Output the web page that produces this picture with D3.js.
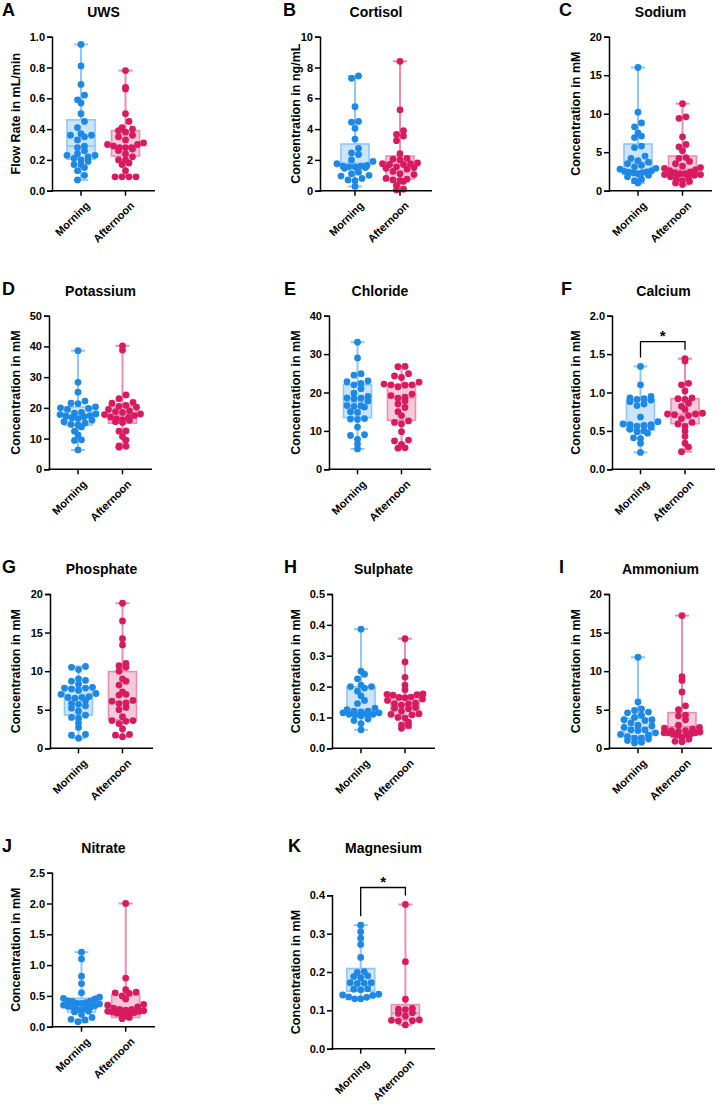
<!DOCTYPE html>
<html>
<head>
<meta charset="utf-8">
<script src="https://cdn.jsdelivr.net/npm/d3@7"></script>
<style>
  html, body { margin: 0; padding: 0; background: #fff; }
  svg { display: block; font-family: "Liberation Sans", Arial, Helvetica, sans-serif; font-weight: bold; }
</style>
</head>
<body>
<svg id="chart" width="716" height="1106"></svg>
<script>
// ---------------- DATA ----------------
const groups = ["Morning", "Afternoon"];
const panelLetters = ["A","B","C","D","E","F","G","H","I","J","K"];
const panelTitles = ["UWS","Cortisol","Sodium","Potassium","Chloride","Calcium","Phosphate","Sulphate","Ammonium","Nitrate","Magnesium"];
const yLabels = ["Flow Rate in mL/min","Concentration in ng/mL","Concentration in mM","Concentration in mM","Concentration in mM","Concentration in mM","Concentration in mM","Concentration in mM","Concentration in mM","Concentration in mM","Concentration in mM"];
const yMaxes = [1.0, 10, 20, 50, 40, 2.0, 20, 0.5, 20, 2.5, 0.4];
const yTickSteps = [0.2, 2, 5, 10, 10, 0.5, 5, 0.1, 5, 0.5, 0.1];
const yTickFormats = [".1f", "d", "d", "d", "d", ".1f", "d", ".1f", "d", ".1f", ".1f"];
const significance = ["", "", "", "", "", "*", "", "", "", "", "*"];

// individual points [Morning, Afternoon]
const uwsMorning = [0.95,0.81,0.69,0.62,0.59,0.57,0.50,0.45,0.41,0.37,0.36,0.36,0.35,0.33,0.29,0.28,0.26,0.24,0.23,0.23,0.22,0.21,0.20,0.19,0.17,0.17,0.15,0.13,0.10,0.07];
const uwsAfternoon = [0.78,0.67,0.66,0.50,0.45,0.41,0.40,0.39,0.38,0.36,0.35,0.33,0.31,0.30,0.30,0.29,0.28,0.28,0.28,0.27,0.26,0.24,0.22,0.20,0.20,0.18,0.17,0.13,0.09,0.09,0.09,0.09];
const cortisolMorning = [7.45,7.3,5.45,4.5,4.45,4.05,3.35,2.75,2.45,2.35,2.0,1.9,1.75,1.65,1.6,1.6,1.55,1.55,1.5,1.45,1.2,1.1,1.0,0.95,0.8,0.7,0.65,0.28];
const cortisolAfternoon = [8.4,5.25,3.9,3.65,3.55,3.25,2.4,2.1,2.05,2.0,1.8,1.75,1.75,1.7,1.7,1.55,1.5,1.45,1.4,1.25,1.1,1.05,0.8,0.75,0.7,0.65,0.6,0.35,0.1,0.05];
const sodiumMorning = [16,10.2,8.8,8.3,7.5,7.1,6.9,5.8,5.6,4.5,4.2,3.9,3.7,3.5,3.3,3.1,2.9,2.8,2.6,2.5,2.45,2.4,2.35,2.3,2.2,2.0,1.8,1.5,1.3,1.0];
const sodiumAfternoon = [11.3,9.6,9.4,7.0,6.0,5.7,5.2,4.3,4.2,3.8,3.5,3.2,3.0,2.9,2.7,2.6,2.4,2.3,2.2,2.2,2.1,2.1,2.0,1.8,1.7,1.5,1.3,1.2,1.0,0.8];
const potassiumMorning = [38.6,28.3,25.1,22.2,21.5,21.4,20.3,20.0,19.8,19.5,18.5,18.3,18.0,17.8,17.5,17.3,17.1,16.8,16.5,16.0,15.5,15.0,14.6,14.4,13.8,12.4,11.2,9.6,9.4,6.3];
const potassiumAfternoon = [40.2,38.8,24.2,23.0,21.8,21.5,20.8,20.5,20.2,19.5,19.0,18.8,18.5,18.0,17.8,17.5,17.0,16.8,16.5,16.2,16.0,15.5,15.2,12.5,12.4,10.7,9.5,7.6,7.5,7.2];
const chlorideMorning = [33.1,29.0,24.9,24.5,23.0,22.8,22.4,22.0,21.0,19.8,19.0,18.6,18.5,18.4,17.8,16.6,16.5,16.4,16.2,15.0,14.8,13.2,13.1,13.0,11.0,9.0,8.8,7.8,6.6,5.3];
const chlorideAfternoon = [26.8,26.7,24.9,24.3,23.9,22.7,22.2,22.0,22.0,21.9,21.5,19.6,19.2,18.8,18.5,17.8,17.0,16.1,15.0,14.0,12.6,12.2,11.8,9.8,7.6,7.4,6.5,5.6,5.5];
const calciumMorning = [1.34,1.10,0.95,0.93,0.92,0.91,0.90,0.88,0.85,0.83,0.68,0.62,0.59,0.58,0.58,0.57,0.56,0.55,0.52,0.50,0.49,0.47,0.41,0.40,0.34,0.22];
const calciumAfternoon = [1.44,1.41,1.12,1.10,1.02,0.93,0.92,0.91,0.86,0.82,0.78,0.73,0.72,0.72,0.71,0.70,0.66,0.61,0.59,0.56,0.50,0.43,0.34,0.29,0.23];
const phosphateMorning = [10.6,10.5,10.2,9.0,8.8,8.7,8.3,7.9,7.8,7.8,7.7,7.5,7.1,7.0,6.7,6.6,6.6,6.5,6.2,5.8,5.7,5.5,5.2,4.8,4.3,4.0,3.9,3.3,2.7,1.8,1.7,1.3];
const phosphateAfternoon = [18.8,16.5,14.2,13.4,11.0,10.7,10.5,10.0,9.0,8.7,8.2,7.3,7.0,6.9,6.2,6.1,5.9,5.8,5.3,5.0,4.1,3.6,3.6,3.5,3.2,2.5,1.8,1.7,1.5];
const sulphateMorning = [0.386,0.25,0.24,0.225,0.205,0.20,0.20,0.195,0.185,0.17,0.155,0.145,0.13,0.125,0.12,0.12,0.118,0.115,0.115,0.11,0.11,0.11,0.108,0.105,0.095,0.09,0.08,0.06];
const sulphateAfternoon = [0.355,0.28,0.23,0.205,0.19,0.176,0.175,0.174,0.172,0.166,0.165,0.164,0.16,0.155,0.146,0.145,0.144,0.14,0.132,0.13,0.128,0.12,0.112,0.11,0.108,0.1,0.098,0.085,0.076,0.074,0.065];
const ammoniumMorning = [11.8,6.0,5.1,4.9,4.7,4.6,4.3,4.0,3.7,3.7,3.6,3.3,3.0,2.9,2.7,2.4,2.4,2.3,2.0,1.8,1.7,1.5,1.3,1.3,1.2,1.0,0.8,0.7];
const ammoniumAfternoon = [17.2,9.3,8.8,7.3,5.5,5.0,4.3,4.2,3.7,3.0,2.7,2.6,2.5,2.3,2.3,2.2,2.1,2.0,2.0,2.0,1.9,1.8,1.8,1.7,1.4,1.2,0.9,0.85];
const nitrateMorning = [1.21,1.1,0.82,0.7,0.55,0.48,0.46,0.45,0.42,0.42,0.41,0.39,0.38,0.38,0.37,0.35,0.34,0.33,0.32,0.32,0.30,0.28,0.27,0.25,0.24,0.2,0.15,0.12,0.11,0.08];
const nitrateAfternoon = [2.0,0.79,0.6,0.56,0.55,0.54,0.5,0.45,0.36,0.35,0.32,0.3,0.28,0.28,0.27,0.26,0.25,0.25,0.24,0.23,0.22,0.22,0.21,0.18,0.15,0.13];
const magnesiumMorning = [0.322,0.305,0.288,0.272,0.238,0.201,0.199,0.19,0.188,0.185,0.172,0.172,0.171,0.17,0.156,0.155,0.154,0.142,0.14,0.139,0.135,0.134,0.13,0.13];
const magnesiumAfternoon = [0.376,0.227,0.129,0.105,0.103,0.102,0.094,0.092,0.085,0.075,0.074,0.073,0.072,0.062];

// box statistics [min, Q1, median, Q3, max] for [Morning, Afternoon]
const uwsBox = [[0.07,0.205,0.29,0.46,0.95],[0.09,0.225,0.285,0.39,0.78]];
const cortisolBox = [[0.28,1.45,1.77,3.03,7.45],[0.05,0.76,1.65,2.25,8.4]];
const sodiumBox = [[1.0,2.45,3.68,6.06,16],[0.8,2.12,2.77,4.5,11.3]];
const potassiumBox = [[6.3,14.4,17.0,20.3,38.6],[7.2,15.0,17.9,20.6,40.2]];
const chlorideBox = [[5.3,13.45,17.5,22.0,33.1],[5.5,12.75,18.65,22.0,26.8]];
const calciumBox = [[0.22,0.508,0.585,0.91,1.34],[0.23,0.594,0.72,0.92,1.44]];
const phosphateBox = [[1.3,4.32,6.52,7.86,10.6],[1.5,3.67,5.96,9.94,18.8]];
const sulphateBox = [[0.06,0.108,0.125,0.199,0.386],[0.065,0.105,0.135,0.165,0.355]];
const ammoniumBox = [[0.7,1.6,2.72,3.89,11.8],[0.85,1.9,2.8,4.62,17.2]];
const nitrateBox = [[0.07,0.238,0.335,0.46,1.21],[0.13,0.15,0.30,0.52,2.0]];
const magnesiumBox = [[0.13,0.15,0.168,0.209,0.322],[0.062,0.075,0.093,0.115,0.376]];

const pointSets = [
  [uwsMorning, uwsAfternoon], [cortisolMorning, cortisolAfternoon], [sodiumMorning, sodiumAfternoon],
  [potassiumMorning, potassiumAfternoon], [chlorideMorning, chlorideAfternoon], [calciumMorning, calciumAfternoon],
  [phosphateMorning, phosphateAfternoon], [sulphateMorning, sulphateAfternoon], [ammoniumMorning, ammoniumAfternoon],
  [nitrateMorning, nitrateAfternoon], [magnesiumMorning, magnesiumAfternoon]
];
const boxSets = [uwsBox, cortisolBox, sodiumBox, potassiumBox, chlorideBox, calciumBox, phosphateBox, sulphateBox, ammoniumBox, nitrateBox, magnesiumBox];

// ---------------- LAYOUT ----------------
const axisXs = [52, 320, 609, 49, 329, 612, 50, 332, 609, 52, 332];
const axisTops = [36.7, 36.7, 36.7, 315.7, 315.7, 315.7, 594, 594, 594, 872.7, 895.3];
const axisBottoms = [190.7, 190.7, 190.7, 469.3, 469.3, 469.3, 748.3, 748.3, 748.3, 1026.7, 1048.7];
const titleYs = [17, 17, 17, 296, 296, 296, 574, 574, 574, 852.5, 852.5];
const letterXs = [2, 283, 559, 2, 284, 561, 2, 284, 559, 2, 288];
const yLabelXs = [15, 295, 575, 15.5, 295, 575, 15.5, 295, 575, 15.5, 295];
const groupOffsets = [[29,73.5],[35,80],[29,73.5],[29,73.5],[28.5,72.5],[28.5,73],[28.5,72.5],[29,73],[29,73],[29.5,73.7],[28.7,73.4]];
const axisLens = [103, 112, 103, 103, 102, 103, 103, 103, 103, 103, 103];

const colors = {
  Morning: { dot: "#1E88E5", stroke: "#8FC5F7", fill: "#CDE5FC" },
  Afternoon: { dot: "#D81B60", stroke: "#EA8DAE", fill: "#F6CADA" }
};
const R = 3.4;
const boxW = 28, capW = 14;
const binH = 6.6, dotGap = 7.0, maxSpread = 36;

const svg = d3.select("#chart");

// row-binned scatter (GraphPad style)
function swarm(vals, y, y0) {
  const bins = d3.group(vals.map(v => ({ v, y: y(v) })), p => Math.floor((y0 - p.y + binH / 2) / binH));
  const out = [];
  for (const [, pts] of bins) {
    pts.sort((a, b) => a.v - b.v);
    const n = pts.length;
    const step = n > 1 ? Math.min(dotGap, maxSpread / (n - 1)) : 0;
    const offs = d3.range(n).map(k => (k - (n - 1) / 2) * step);
    const order = d3.range(n).sort((a, b) => Math.abs(offs[a]) - Math.abs(offs[b]) || offs[a] - offs[b]);
    pts.forEach((p, k) => out.push({ x: offs[order[k]], y: p.y, v: p.v }));
  }
  return out;
}

panelTitles.forEach((title, i) => {
  const ax = axisXs[i];
  const axisLen = axisLens[i];
  const y = d3.scaleLinear().domain([0, yMaxes[i]]).range([axisBottoms[i], axisTops[i]]);
  const x = d3.scalePoint().domain(groups).range([ax + groupOffsets[i][0], ax + groupOffsets[i][1]]);
  const g = svg.append("g");

  g.append("text").attr("x", letterXs[i]).attr("y", titleYs[i] - 1)
    .attr("font-size", 18).attr("fill", "#000").text(panelLetters[i]);
  g.append("text").attr("x", ax + axisLen / 2).attr("y", titleYs[i])
    .attr("text-anchor", "middle").attr("font-size", 14).attr("fill", "#000").text(title);
  const cy = (axisTops[i] + axisBottoms[i]) / 2;
  g.append("text").attr("transform", `translate(${yLabelXs[i] + 4.5},${cy}) rotate(-90)`)
    .attr("text-anchor", "middle").attr("font-size", 12.5).attr("fill", "#000").text(yLabels[i]);

  groups.forEach((grp, gi) => {
    const [mn, q1, med, q3, mx] = boxSets[i][gi];
    const cx = x(grp);
    const c = colors[grp];
    g.append("line").attr("x1", cx).attr("x2", cx).attr("y1", y(mx)).attr("y2", y(mn))
      .attr("stroke", c.stroke).attr("stroke-width", 2);
    [mn, mx].forEach(v => g.append("line").attr("x1", cx - capW / 2).attr("x2", cx + capW / 2)
      .attr("y1", y(v)).attr("y2", y(v)).attr("stroke", c.stroke).attr("stroke-width", 2));
    g.append("rect").attr("x", cx - boxW / 2).attr("width", boxW)
      .attr("y", y(q3)).attr("height", y(q1) - y(q3))
      .attr("fill", c.fill).attr("stroke", c.stroke).attr("stroke-width", 1.6);
    g.append("line").attr("x1", cx - boxW / 2).attr("x2", cx + boxW / 2)
      .attr("y1", y(med)).attr("y2", y(med)).attr("stroke", c.stroke).attr("stroke-width", 1.6);
  });

  groups.forEach((grp, gi) => {
    const cx = x(grp);
    const pts = swarm(pointSets[i][gi], y, axisBottoms[i]);
    g.selectAll(null).data(pts).enter().append("circle")
      .attr("cx", p => cx + p.x).attr("cy", p => p.y).attr("r", R)
      .attr("fill", colors[grp].dot);
  });

  const ticks = d3.range(0, yMaxes[i] + yTickSteps[i] / 2, yTickSteps[i]);
  const yAxis = d3.axisLeft(y).tickValues(ticks).tickFormat(d3.format(yTickFormats[i])).tickSizeOuter(0).tickSize(5).tickPadding(2);
  const ya = g.append("g").attr("transform", `translate(${ax},0)`).call(yAxis);
  ya.select(".domain").attr("stroke", "#000").attr("stroke-width", 1.5);
  ya.selectAll(".tick line").attr("stroke", "#000").attr("stroke-width", 1.5);
  ya.selectAll(".tick text").attr("font-size", 11).attr("font-weight", "bold").attr("fill", "#000")
    .attr("font-family", "'Liberation Sans', Arial, sans-serif");

  const xa = g.append("g").attr("transform", `translate(0,${axisBottoms[i]})`);
  xa.append("line").attr("x1", ax - 0.75).attr("x2", ax + axisLen).attr("y1", 0).attr("y2", 0)
    .attr("stroke", "#000").attr("stroke-width", 1.5);
  groups.forEach(grp => {
    xa.append("line").attr("x1", x(grp)).attr("x2", x(grp)).attr("y1", 0).attr("y2", 5)
      .attr("stroke", "#000").attr("stroke-width", 1.5);
    xa.append("text").attr("transform", `translate(${x(grp) + 4},${10}) rotate(-45)`)
      .attr("text-anchor", "end").attr("dy", "0.7em").attr("font-size", 11).attr("fill", "#000").text(grp);
  });

  if (significance[i]) {
    const m0 = boxSets[i][0][4], m1 = boxSets[i][1][4];
    const by = y(Math.max(m0, m1)) - 17;
    const x0 = x(groups[0]), x1 = x(groups[1]);
    g.append("path")
      .attr("d", `M${x0},${y(m0) - 9}V${by}H${x1}V${y(m1) - 9}`)
      .attr("fill", "none").attr("stroke", "#000").attr("stroke-width", 1.3);
    g.append("text").attr("x", (x0 + x1) / 2).attr("y", by - 1)
      .attr("text-anchor", "middle").attr("font-size", 15).attr("fill", "#000").text(significance[i]);
  }
});
</script>
</body>
</html>
